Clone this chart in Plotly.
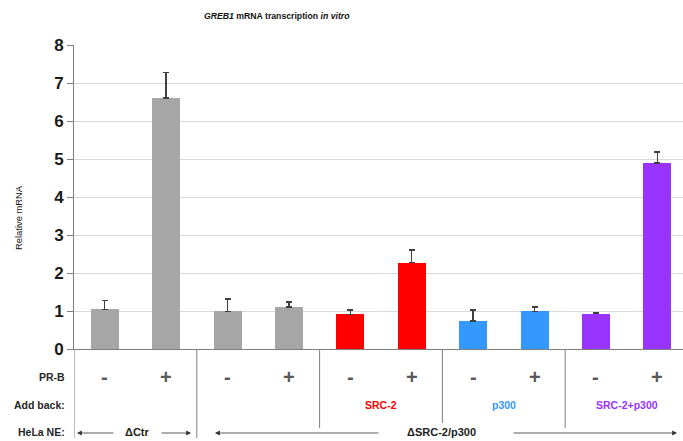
import plotly.graph_objects as go

categories = ["Ctr -", "Ctr +", "dKO -", "dKO +", "SRC2 -", "SRC2 +", "p300 -", "p300 +", "SRC2p300 -", "SRC2p300 +"]
values = [1.04, 6.61, 0.99, 1.10, 0.91, 2.27, 0.74, 0.99, 0.93, 4.89]
errors = [0.24, 0.66, 0.32, 0.14, 0.12, 0.34, 0.28, 0.11, 0.03, 0.30]
colors = ["#a6a6a6"] * 4 + ["#ff0000"] * 2 + ["#3399ff"] * 2 + ["#9933ff"] * 2
pr_b = ["-", "+", "-", "+", "-", "+", "-", "+", "-", "+"]
addback_labels = ["SRC-2", "p300", "SRC-2+p300"]
addback_pos = [4.5, 6.5, 8.5]
addback_colors = ["#ff0000", "#3399ff", "#9933ff"]
y_ticks = [0, 1, 2, 3, 4, 5, 6, 7, 8]

FONT = "Liberation Sans, Arial, sans-serif"

fig = go.Figure()
fig.add_trace(go.Bar(
    x=list(range(len(categories))), y=values,
    marker=dict(color=colors, line=dict(width=0)),
    width=0.456,
    error_y=dict(type="data", array=errors, arrayminus=[0] * len(errors),
                 symmetric=False, color="#404040", thickness=1.5, width=3),
    hoverinfo="skip",
))

# pixel -> paper y
H_TOP, H_BOT = 45, 349
def py(Y):
    return (H_BOT - Y) / (H_BOT - H_TOP)

def px_to_x(X):
    return (X - 74) / 61.4 - 0.5

ann = []
ann.append(dict(text="<b><i>GREB1</i> mRNA transcription <i>in vitro</i></b>", xref="paper", yref="paper",
                x=(277 - 74) / (683 - 74), y=py(16), showarrow=False,
                font=dict(family=FONT, size=8.7, color="#111111"), xanchor="center", yanchor="middle"))
ann.append(dict(text="Relative mRNA", xref="paper", yref="paper", x=(18 - 74) / (683 - 74), y=py(218),
                textangle=-90, showarrow=False, font=dict(family=FONT, size=9.4, color="#111111"),
                xanchor="center", yanchor="middle"))
for lbl, Y in [("PR-B", 377), ("Add back:", 405), ("HeLa NE:", 432)]:
    ann.append(dict(text="<b>" + lbl + "</b>", xref="paper", yref="paper",
                    x=(67 - 74) / (683 - 74), y=py(Y), showarrow=False,
                    font=dict(family=FONT, size=10.5, color="#262626"), xanchor="right", yanchor="middle"))
for i, s in enumerate(pr_b):
    ann.append(dict(text="<b>" + ("+" if s == "+" else "-") + "</b>", x=i, xref="x", yref="paper", y=py(377),
                    showarrow=False, font=dict(family=FONT, size=20, color="#595959"),
                    xanchor="center", yanchor="middle"))
for lbl, xp, c in zip(addback_labels, addback_pos, addback_colors):
    ann.append(dict(text="<b>" + lbl + "</b>", x=xp, xref="x", yref="paper", y=py(405), showarrow=False,
                    font=dict(family=FONT, size=10.5, color=c), xanchor="center", yanchor="middle"))
ann.append(dict(text="<b>ΔCtr</b>", x=px_to_x(137), xref="x", yref="paper", y=py(432), showarrow=False,
                font=dict(family=FONT, size=11, color="#222222"), xanchor="center", yanchor="middle"))
ann.append(dict(text="<b>ΔSRC-2/p300</b>", x=px_to_x(441), xref="x", yref="paper", y=py(432), showarrow=False,
                font=dict(family=FONT, size=11, color="#222222"), xanchor="center", yanchor="middle"))
for (x0, x1) in [(115, 77), (160, 191), (380, 215), (512, 677)]:
    ann.append(dict(text="", x=px_to_x(x1), y=py(433), xref="x", yref="paper",
                    ax=x0 - x1, ay=0, axref="pixel", ayref="pixel",
                    showarrow=True, arrowhead=2, arrowsize=1.2, arrowwidth=0.8, arrowcolor="#333333"))

shapes = []
# y-axis extension below plot
shapes.append(dict(type="line", xref="x", yref="paper", x0=-0.5, x1=-0.5, y0=0, y1=py(438),
                   line=dict(color="#7f7f7f", width=1)))
for xs, Yend in [(1.5, 438), (3.5, 428), (5.5, 423), (7.5, 428)]:
    shapes.append(dict(type="line", xref="x", yref="paper", x0=xs, x1=xs, y0=0, y1=py(Yend),
                       line=dict(color="#7f7f7f", width=1)))

fig.update_layout(
    width=683, height=441,
    margin=dict(l=74, r=0, t=H_TOP, b=441 - H_BOT),
    paper_bgcolor="white", plot_bgcolor="white",
    showlegend=False,
    annotations=ann, shapes=shapes,
    bargap=0,
    xaxis=dict(range=[-0.5, px_to_x(683)], showticklabels=False, ticks="", showgrid=False,
               showline=True, linecolor="#7f7f7f", linewidth=1, zeroline=False, fixedrange=True),
    yaxis=dict(range=[0, 8], tickvals=y_ticks, ticktext=["<b>%d</b>" % t for t in y_ticks],
               tickfont=dict(family=FONT, size=17, color="#1a1a1a"),
               showgrid=True, gridcolor="#d9d9d9", gridwidth=1,
               showline=True, linecolor="#7f7f7f", linewidth=1,
               ticks="outside", ticklen=6, tickcolor="#7f7f7f", zeroline=False, fixedrange=True),
)

fig.write_html("out.html", config={"displayModeBar": False},
               post_script="document.body.style.margin='0';document.body.style.overflow='hidden';")
